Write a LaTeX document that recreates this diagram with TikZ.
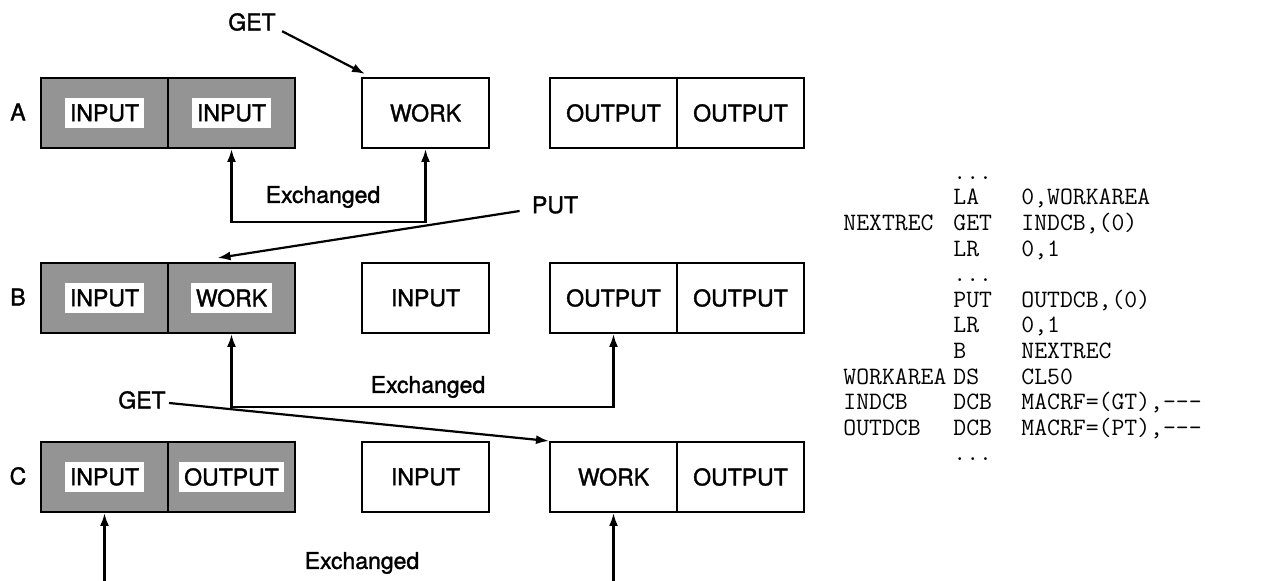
\documentclass[tikz,border=0pt]{standalone}
\usepackage{fontspec}
\setsansfont{TeX Gyre Heros}[FakeBold=1.5]
\usetikzlibrary{arrows.meta}
\begin{document}
\begin{tikzpicture}[x=0.5pt,y=-0.5pt,
  lettering/.style={font=\sffamily\fontsize{11.5}{12}\selectfont},
  cell/.style={draw=black, line width=1pt, minimum width=63.5pt, minimum height=35pt,
    inner sep=0pt, anchor=north west, lettering},
  shaded/.style={cell, fill=black!42},
  tag/.style={fill=white, inner xsep=2.5pt, inner ysep=3pt, lettering},
  txt/.style={inner sep=0pt, lettering},
  tip/.tip={Latex[length=6.5pt,width=4.5pt]},
  link/.style={line width=1.1pt, -tip},
  swap/.style={line width=1.1pt, tip-tip},
  code/.style={anchor=north west, inner sep=0pt, font=\ttfamily\fontsize{12.5}{12.8}\selectfont},
]
\useasboundingbox[fill=white] (0,0) rectangle (1284,581);

% ---- row A: both buffers hold input, GET fills the work area
\node[txt] (rowA) at (18,112) {A};
\node[shaded] (a1) at (40,77) {};
\node[tag] (a1t) at (a1) {INPUT};
\node[shaded] (a2) at (167,77) {};
\node[tag] (a2t) at (a2) {INPUT};
\node[cell] (aw) at (361,77) {WORK};
\node[cell] (a3) at (549,77) {OUTPUT};
\node[cell] (a4) at (676,77) {OUTPUT};

\node[txt] (getA) at (252,22) {GET};
\draw[link] ([xshift=3pt]getA.south east) -- ([xshift=2pt,yshift=1.5pt]aw.north west);
\draw[swap] (a2.south) -- ++(0,73) -| (aw.south);
\node[txt] (exA) at (323,197) {Exchanged};

% ---- row B: PUT hands the work area to the output buffer
\node[txt] (rowB) at (18,297) {B};
\node[shaded] (b1) at (40,262) {};
\node[tag] (b1t) at (b1) {INPUT};
\node[shaded] (b2) at (167,262) {};
\node[tag] (b2t) at (b2) {WORK};
\node[cell] (bw) at (361,262) {INPUT};
\node[cell] (b3) at (549,262) {OUTPUT};
\node[cell] (b4) at (676,262) {OUTPUT};

\node[txt] (put) at (555,205) {PUT};
\draw[link] ([xshift=-6pt,yshift=-3pt]put.west) -- ([xshift=-7pt,yshift=2pt]b2.north);
\draw[swap] (b2.south) -- ++(0,73) -| (b3.south);
\node[txt] (exB) at (428,387) {Exchanged};

% ---- row C: the next GET
\node[txt] (rowC) at (18,476) {C};
\node[shaded] (c1) at (40,441) {};
\node[tag] (c1t) at (c1) {INPUT};
\node[shaded] (c2) at (167,441) {};
\node[tag] (c2t) at (c2) {OUTPUT};
\node[cell] (cm) at (361,441) {INPUT};
\node[cell] (cw) at (549,441) {WORK};
\node[cell] (c3) at (676,441) {OUTPUT};

\node[txt] (getC) at (142,400) {GET};
\draw[link] ([xshift=1.5pt,yshift=-1.5pt]getC.east) -- (cw.north west);
\draw[swap] (c1.south) -- ++(0,76) -| (cw.south);
\node[txt] (exC) at (362,563) {Exchanged};

% ---- assembler listing
\node[code] (listing) at (843,161) {%
\begin{tabular}{@{}p{55pt}@{}p{34pt}@{}l@{}}
         & ...  & \\
         & LA   & 0,WORKAREA\\
NEXTREC  & GET  & INDCB,(0)\\
         & LR   & 0,1\\
         & ...  & \\
         & PUT  & OUTDCB,(0)\\
         & LR   & 0,1\\
         & B    & NEXTREC\\
WORKAREA & DS   & CL50\\
INDCB    & DCB  & MACRF=(GT),-{}-{}-\\
OUTDCB   & DCB  & MACRF=(PT),-{}-{}-\\
         & ...  & \\
\end{tabular}};
\end{tikzpicture}
\end{document}
